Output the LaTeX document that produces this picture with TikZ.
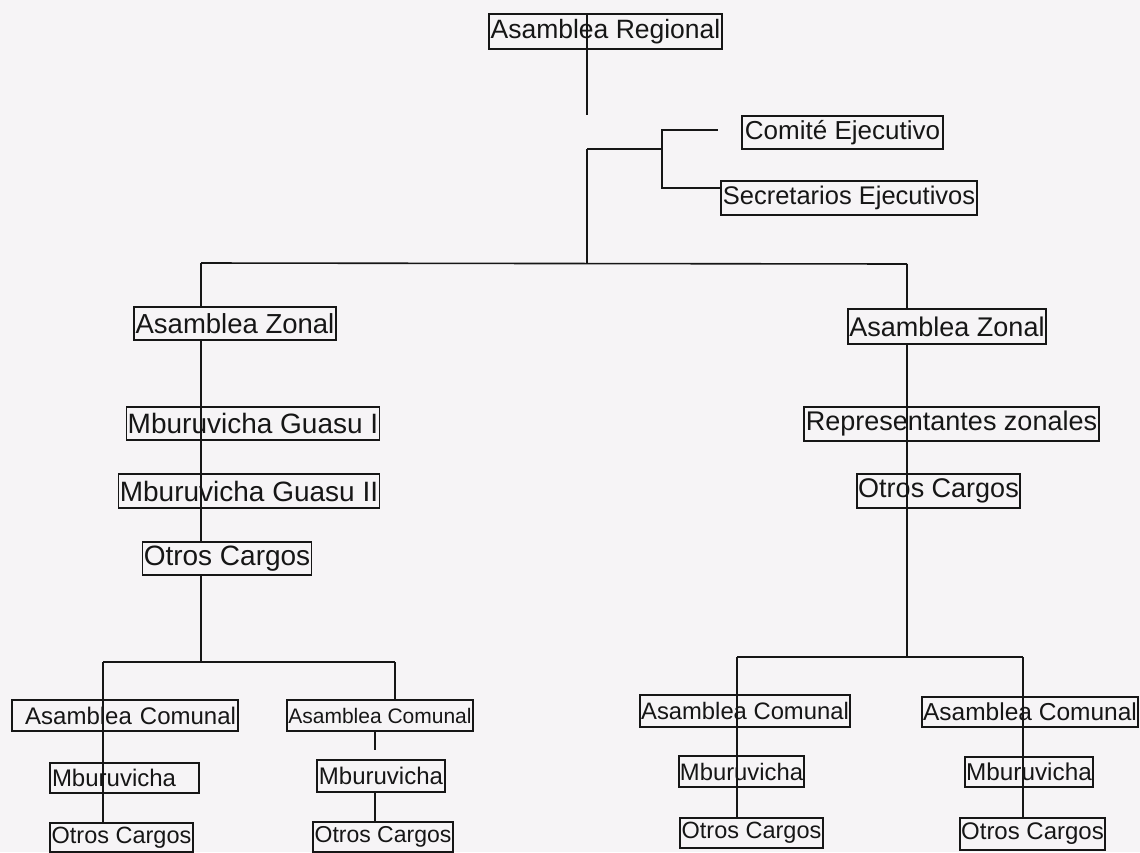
\documentclass[tikz,border=0pt]{standalone}
\usepackage{fontspec}
\setmainfont{Liberation Sans}
\pgfdeclarelayer{bg}
\pgfsetlayers{bg,main}
\newcommand\fsz[1]{\fontsize{#1pt}{#1pt}\selectfont}
\definecolor{bgc}{RGB}{246,244,246}
\definecolor{ink}{RGB}{22,22,22}
\tikzset{
  box/.style={draw=ink, line width=1.2pt, inner xsep=1pt, inner ysep=0pt, text=ink, fill=none},
  hide/.style={fill=bgc},
  conn/.style={draw=ink, line width=1.6pt},
}
\begin{document}
\begin{tikzpicture}[x=1pt,y=-1pt]
\useasboundingbox (0,0) rectangle (1140,852);
% top level
\node[box, minimum width=233pt, minimum height=35pt, font=\fsz{26.5}] (reg) at (605.5,31.5) {Asamblea Regional};
\node[box, hide, minimum width=201pt, minimum height=33pt, font=\fsz{26}] (com) at (842.5,132.5) {Comité Ejecutivo};
\node[box, hide, minimum width=256pt, minimum height=34pt, font=\fsz{25.5}] (sec) at (849,198) {Secretarios Ejecutivos};
% left zone
\node[box, hide, minimum width=202pt, minimum height=33pt, font=\fsz{27.5}] (zl) at (235,323.5) {Asamblea Zonal};
\node[box, minimum width=248pt, minimum height=33pt, font=\fsz{28}] (g1) at (253,423.5) {Mburuvicha Guasu I};
\node[box, minimum width=256pt, minimum height=34pt, font=\fsz{28}] (g2) at (249,491) {Mburuvicha Guasu II};
\node[box, hide, minimum width=168pt, minimum height=33pt, font=\fsz{28}] (ol) at (227,558.5) {Otros Cargos};
% right zone
\node[box, hide, minimum width=198pt, minimum height=35pt, font=\fsz{27}] (zr) at (947,326.5) {Asamblea Zonal};
\node[box, minimum width=295pt, minimum height=34pt, font=\fsz{27}] (rz) at (951.5,424) {Representantes zonales};
\node[box, minimum width=163pt, minimum height=34pt, font=\fsz{27}] (or) at (938.5,491) {Otros Cargos};
% communities
\node[box, inner xsep=2pt, text width=222pt, align=right, minimum height=31pt, font=\fsz{24}] (c1) at (125,715.5) {Asamblea Comunal};
\node[box, inner xsep=2pt, text width=145pt, align=left, minimum height=30pt, font=\fsz{24}] (m1) at (124.5,778) {Mburuvicha};
\node[box, minimum width=143pt, minimum height=29pt, font=\fsz{23.5}] (o1) at (121.5,837.5) {Otros Cargos};
\node[box, hide, minimum width=186pt, minimum height=31pt, font=\fsz{21}] (c2) at (380,715.5) {Asamblea Comunal};
\node[box, minimum width=128pt, minimum height=32pt, font=\fsz{24}] (m2) at (381,776) {Mburuvicha};
\node[box, minimum width=140pt, minimum height=30pt, font=\fsz{23}] (o2) at (383,837) {Otros Cargos};
\node[box, minimum width=210pt, minimum height=32pt, font=\fsz{23.8}] (c3) at (745,711) {Asamblea Comunal};
\node[box, minimum width=125pt, minimum height=31pt, font=\fsz{23.8}] (m3) at (741.5,771.5) {Mburuvicha};
\node[box, minimum width=143pt, minimum height=30pt, font=\fsz{23.5}] (o3) at (751.5,833) {Otros Cargos};
\node[box, minimum width=216pt, minimum height=30pt, font=\fsz{24.5}] (c4) at (1030,712) {Asamblea Comunal};
\node[box, minimum width=128pt, minimum height=30pt, font=\fsz{24.3}] (m4) at (1029,772) {Mburuvicha};
\node[box, minimum width=145pt, minimum height=32pt, font=\fsz{24}] (o4) at (1032.5,834) {Otros Cargos};
% joints
\coordinate (t1) at (587,115);
\coordinate (t2) at (587,149);
\coordinate (b1) at (662,149);
\coordinate (ce) at (718,130);
\coordinate (sl) at (662,188);
\coordinate (hb) at (587,263);
\coordinate (hl) at (201,263);
\coordinate (hr) at (907,264);
\coordinate (bl) at (201,662);
\coordinate (bl1) at (103,662);
\coordinate (bl2) at (395,662);
\coordinate (s2) at (375,750);
\coordinate (br) at (907,657);
\coordinate (br1) at (737,657);
\coordinate (br2) at (1023,657);
\begin{pgfonlayer}{bg}
\fill[bgc] (0,0) rectangle (1140,852);
\draw[conn] (reg.north -| t1) -- (t1);
\draw[conn] (t2) -- (hb);
\draw[conn] (t2) -- (b1) -- (b1 |- ce) -- (ce);
\draw[conn] (b1) -- (sl) -- (sl -| sec.west);
\draw[conn] (hl) -- (hr);
\draw[conn] (hl) -- (zl.north -| hl);
\draw[conn] (zl.south -| hl) -- (ol.north -| hl);
\draw[conn] (ol.south -| hl) -- (bl);
\draw[conn] (bl1) -- (bl2);
\draw[conn] (bl1) -- (o1.north -| bl1);
\draw[conn] (bl2) -- (c2.north -| bl2);
\draw[conn] (c2.south -| s2) -- (s2);
\draw[conn] (m2.south -| s2) -- (o2.north -| s2);
\draw[conn] (hr) -- (zr.north -| hr);
\draw[conn] (zr.south -| hr) -- (br);
\draw[conn] (br1) -- (br2);
\draw[conn] (br1) -- (o3.north -| br1);
\draw[conn] (br2) -- (o4.north -| br2);
\end{pgfonlayer}
\end{tikzpicture}
\end{document}
